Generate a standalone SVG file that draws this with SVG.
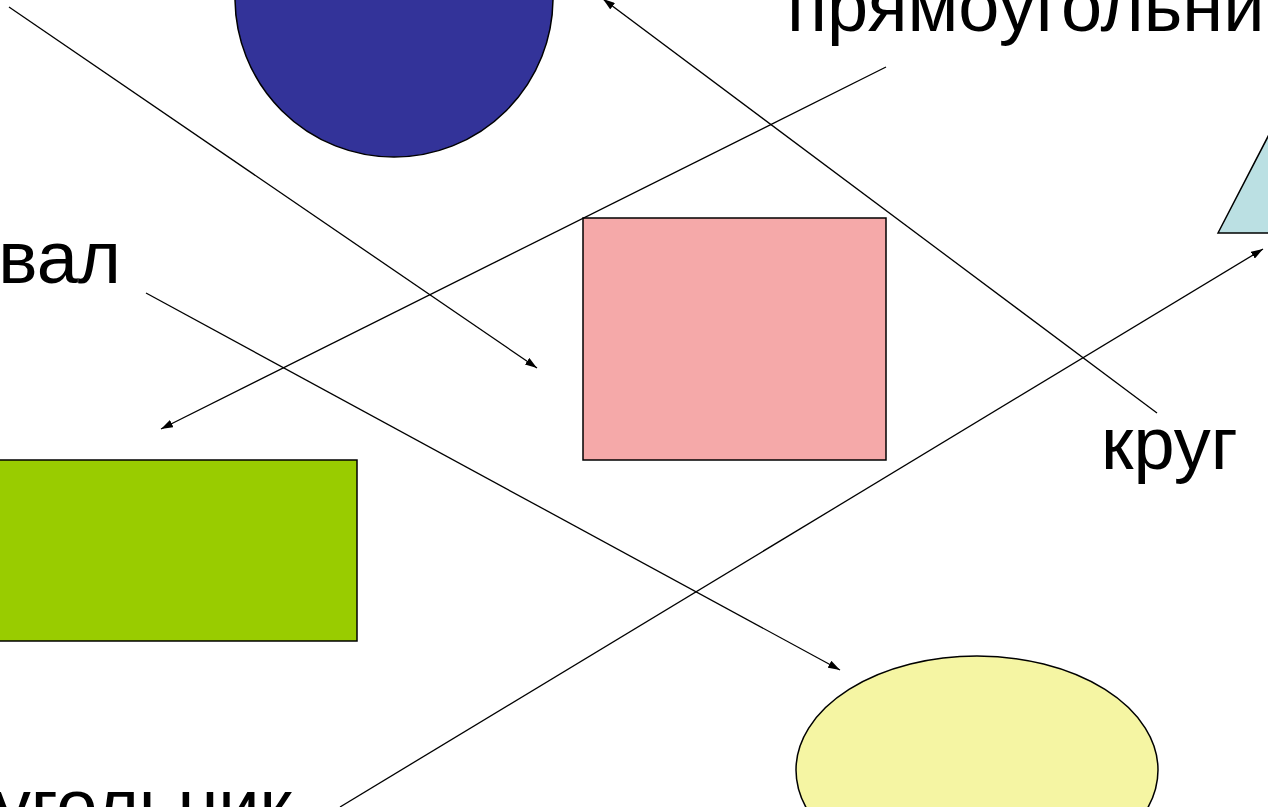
<svg xmlns="http://www.w3.org/2000/svg" width="1268" height="807" viewBox="0 0 1268 807">
<style>
.shape{stroke:#000;stroke-width:1.5}
.lbl{font-family:"Liberation Sans",Arial,sans-serif;font-size:74px;fill:#000}
.conn{stroke:#000;stroke-width:1.3;fill:none;marker-end:url(#ah)}
</style>
<defs>
<marker id="ah" viewBox="0 0 12 8" refX="12" refY="4" markerWidth="12" markerHeight="8" markerUnits="userSpaceOnUse" orient="auto">
<path d="M0,0 L12,4 L0,8 z" fill="#000"/>
</marker>
</defs>
<rect width="1268" height="807" fill="#fff"/>
<g id="circle"><circle class="shape" cx="394" cy="-2" r="159" fill="#333399"/></g>
<g id="pink-rect"><rect class="shape" x="583" y="218" width="303" height="242" fill="#F5A9A9"/></g>
<g id="green-rect"><rect class="shape" x="-20" y="460" width="377" height="181" fill="#99CC00"/></g>
<g id="ellipse"><ellipse class="shape" cx="977" cy="770" rx="181" ry="114" fill="#F5F5A3"/></g>
<g id="triangle"><polygon class="shape" points="1218,233 1318,40 1400,233" fill="#BBE0E3"/></g>
<g id="label-rect"><text class="lbl" x="787" y="31">прямоугольник</text></g>
<g id="label-oval"><text class="lbl" x="121" y="283" text-anchor="end">Овал</text></g>
<g id="label-circle"><text class="lbl" x="1101" y="469">круг</text></g>
<g id="label-triangle"><text class="lbl" x="292" y="831" text-anchor="end">треугольник</text></g>
<g id="connectors">
<line class="conn" x1="9" y1="7" x2="537" y2="368"/>
<line class="conn" x1="1157" y1="413" x2="603" y2="-1"/>
<line class="conn" x1="886" y1="67" x2="161" y2="429"/>
<line class="conn" x1="146" y1="293" x2="840" y2="670"/>
<line class="conn" x1="340" y1="807" x2="1263" y2="249"/>
</g>
</svg>
